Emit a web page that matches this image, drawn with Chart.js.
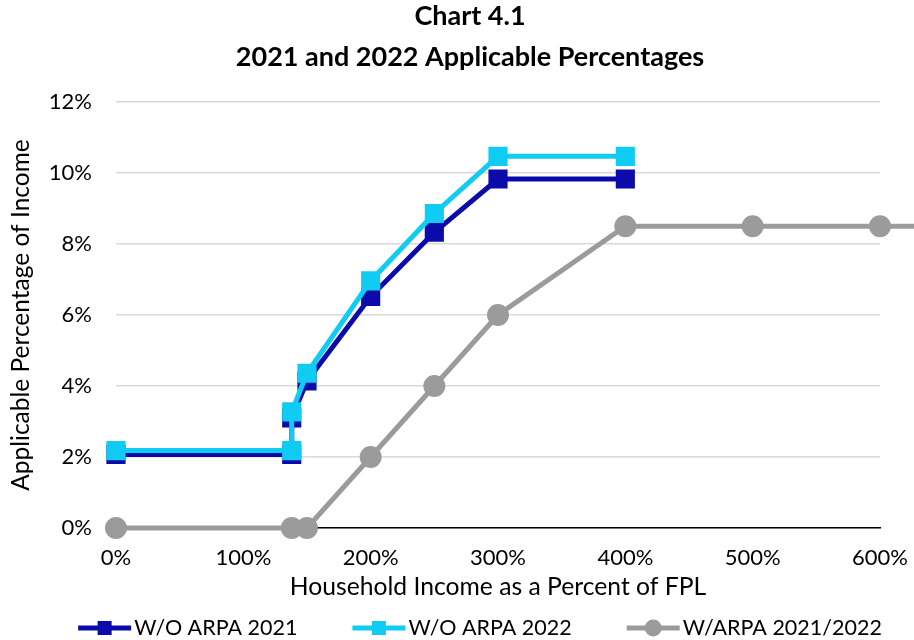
<!DOCTYPE html>
<html>
<head>
<meta charset="utf-8">
<script src="https://cdn.jsdelivr.net/npm/chart.js@4"></script>
<style>
  body { margin: 0; background: #fff; }
  canvas { display: block; }
</style>
</head>
<body>
<canvas id="myChart" width="914" height="640"></canvas>
<script>
// household income as a percent of FPL
const fplSteps = [0, 138, 138, 150, 200, 250, 300, 400];
const withoutArpa2021 = [2.07, 2.07, 3.10, 4.14, 6.52, 8.33, 9.83, 9.83];
const withoutArpa2022 = [2.18, 2.18, 3.27, 4.36, 6.96, 8.86, 10.47, 10.47];

const arpaSteps = [0, 138, 150, 200, 250, 300, 400, 500, 600, 630];
const withArpa = [0, 0, 0, 2, 4, 6, 8.5, 8.5, 8.5, 8.5];

const seriesNames = ['W/O ARPA 2021', 'W/O ARPA 2022', 'W/ARPA 2021/2022'];
const seriesColors = ['#0b0bab', '#10cbf2', '#9b9b9b'];
const seriesMarkers = ['rect', 'rect', 'circle'];

const FONT = 'Lato, "Open Sans", sans-serif';

function toPoints(xs, ys) {
  return xs.map((x, i) => ({ x: x, y: ys[i] }));
}

// line + marker legend under the axis title
const bottomLegend = {
  id: 'bottomLegend',
  afterDraw(chart) {
    const ctx = chart.ctx;
    const y = 628;
    const lineLen = 53, gap = 3, itemGap = 55;
    ctx.save();
    ctx.font = '21.5px ' + FONT;
    const widths = seriesNames.map(n => ctx.measureText(n).width);
    let total = widths.reduce((a, b) => a + b, 0) + seriesNames.length * (lineLen + gap) + (seriesNames.length - 1) * itemGap;
    let x = chart.width / 2 + 23 - total / 2;
    seriesNames.forEach((name, i) => {
      ctx.strokeStyle = seriesColors[i];
      ctx.fillStyle = seriesColors[i];
      ctx.lineWidth = 5;
      ctx.beginPath();
      ctx.moveTo(x, y);
      ctx.lineTo(x + lineLen, y);
      ctx.stroke();
      const cx = x + lineLen / 2;
      if (seriesMarkers[i] === 'rect') {
        ctx.fillRect(cx - 7, y - 7, 14, 14);
      } else {
        ctx.beginPath();
        ctx.arc(cx, y, 8.5, 0, Math.PI * 2);
        ctx.fill();
      }
      ctx.fillStyle = '#000';
      ctx.textBaseline = 'middle';
      ctx.fillText(name, x + lineLen + gap, y);
      x += lineLen + gap + widths[i] + itemGap;
    });
    ctx.restore();
  }
};

// nudge the title block so it sits over the plot
const titleShift = {
  id: 'titleShift',
  afterLayout(chart) {
    if (chart.titleBlock) {
      chart.titleBlock.left += 30;
      chart.titleBlock.right += 30;
    }
  }
};

const ctx = document.getElementById('myChart').getContext('2d');
const myChart = new Chart(ctx, {
  type: 'line',
  data: {
    datasets: [
      {
        label: seriesNames[0],
        data: toPoints(fplSteps, withoutArpa2021),
        borderColor: seriesColors[0],
        backgroundColor: seriesColors[0],
        pointStyle: 'rect',
        pointRadius: 10,
        borderWidth: 5,
        order: 1
      },
      {
        label: seriesNames[1],
        data: toPoints(fplSteps, withoutArpa2022),
        borderColor: seriesColors[1],
        backgroundColor: seriesColors[1],
        pointStyle: 'rect',
        pointRadius: 10,
        borderWidth: 5,
        order: 0
      },
      {
        label: seriesNames[2],
        data: toPoints(arpaSteps, withArpa),
        borderColor: seriesColors[2],
        backgroundColor: seriesColors[2],
        pointStyle: 'circle',
        pointRadius: 8.5,
        borderWidth: 5,
        clip: false,
        order: 2
      }
    ]
  },
  options: {
    responsive: false,
    animation: false,
    events: [],
    layout: { padding: { top: 0, right: 34, bottom: 38, left: 0 } },
    elements: {
      line: { tension: 0 },
      point: { borderWidth: 0 }
    },
    plugins: {
      legend: { display: false },
      tooltip: { enabled: false },
      title: {
        display: true,
        text: ['Chart 4.1', '2021 and 2022 Applicable Percentages'],
        color: '#000',
        font: { family: FONT, size: 27, weight: 'bold', lineHeight: '41px' },
        padding: { top: -4, bottom: 24 }
      }
    },
    scales: {
      x: {
        type: 'linear',
        // the axis stops at 600% while the last line runs on past it
        afterDataLimits(scale) { scale.min = 0; scale.max = 600; },
        ticks: {
          stepSize: 100,
          color: '#000',
          padding: 17,
          font: { family: FONT, size: 22 },
          callback: v => v + '%'
        },
        grid: { display: false, drawTicks: false },
        border: { display: true, color: '#000', width: 1.5 },
        title: {
          display: true,
          text: 'Household Income as a Percent of FPL',
          color: '#000',
          font: { family: FONT, size: 24.7 },
          padding: { top: 0, bottom: 0 }
        },
        afterFit(scale) {
          scale.height = 74;
          scale.paddingLeft = 0;
          scale.paddingRight = 0;
        }
      },
      y: {
        min: 0,
        max: 12,
        ticks: {
          stepSize: 2,
          color: '#000',
          padding: 24,
          font: { family: FONT, size: 22 },
          callback: v => v + '%'
        },
        grid: { color: '#d9d9d9', lineWidth: 1.5, drawTicks: false },
        border: { display: false },
        title: {
          display: true,
          text: 'Applicable Percentage of Income',
          color: '#000',
          font: { family: FONT, size: 24.5 },
          padding: { top: 6, bottom: 0 }
        },
        afterFit(scale) { scale.width = 116; }
      }
    }
  },
  plugins: [titleShift, bottomLegend]
});
</script>
</body>
</html>
